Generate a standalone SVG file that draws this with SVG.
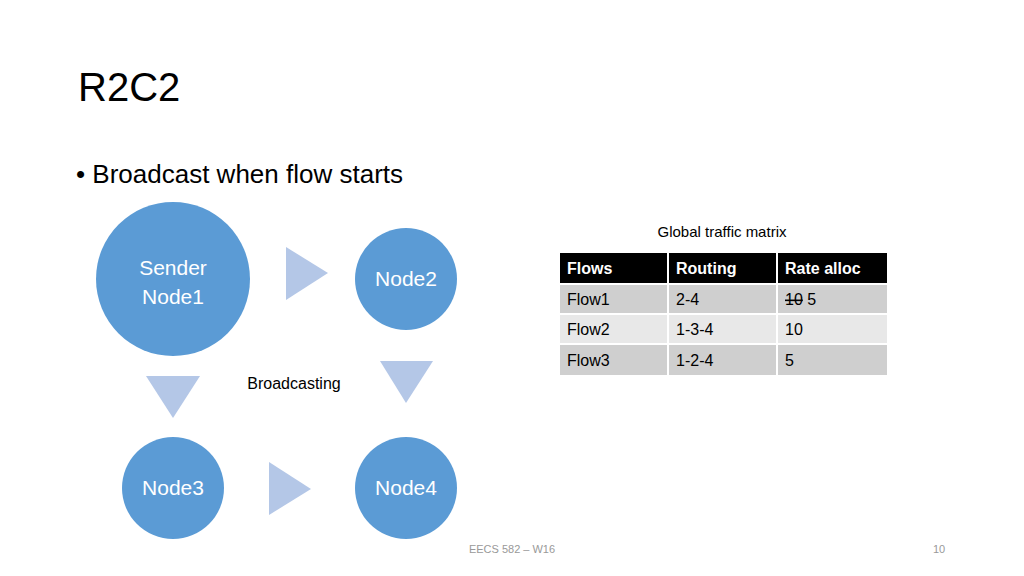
<svg xmlns="http://www.w3.org/2000/svg" width="1024" height="576" viewBox="0 0 1024 576">
<style>
text{font-family:"Liberation Sans","Noto Sans",sans-serif}
.n{fill:#5b9bd5}
.nt{fill:#fff;font-size:21px;text-anchor:middle}
.a{fill:#b4c7e7}
.c{font-size:16px;fill:#000}
.h{font-size:16px;fill:#fff;font-weight:bold}
</style>
<rect width="1024" height="576" fill="#fff"/>
<text x="78" y="101" font-size="40" fill="#000">R2C2</text>
<text x="76" y="183" font-size="26" fill="#000">• Broadcast when flow starts</text>
<g id="node1"><circle class="n" cx="173" cy="279" r="77"/><text class="nt" x="173" y="275" font-size="30">Sender</text><text class="nt" x="173" y="304">Node1</text></g>
<g id="node2"><circle class="n" cx="406" cy="279" r="51"/><text class="nt" x="406" y="286">Node2</text></g>
<g id="node3"><circle class="n" cx="173" cy="488" r="51"/><text class="nt" x="173" y="495">Node3</text></g>
<g id="node4"><circle class="n" cx="406" cy="488" r="51"/><text class="nt" x="406" y="495">Node4</text></g>
<g id="connectors">
<polygon class="a" points="286,247 328,273 286,300"/>
<polygon class="a" points="380,361 433,361 406,403"/>
<polygon class="a" points="146,376 200,376 173,418"/>
<polygon class="a" points="269,462 311,489 269,515"/>
</g>
<text x="294" y="389" font-size="16" text-anchor="middle">Broadcasting</text>
<g id="table">
<text x="722" y="237" font-size="15" text-anchor="middle">Global traffic matrix</text>
<rect x="560" y="253" width="327" height="30" fill="#000"/>
<rect x="560" y="284" width="327" height="30" fill="#cfcfcf"/>
<rect x="560" y="314" width="327" height="30" fill="#e8e8e8"/>
<rect x="560" y="344" width="327" height="31" fill="#cfcfcf"/>
<g stroke="#fff" stroke-width="2"><line x1="668" y1="253" x2="668" y2="375"/><line x1="777" y1="253" x2="777" y2="375"/><line x1="560" y1="284" x2="887" y2="284"/><line x1="560" y1="314" x2="887" y2="314"/><line x1="560" y1="344" x2="887" y2="344"/></g>
<text class="h" x="567" y="274">Flows</text><text class="h" x="676" y="274">Routing</text><text class="h" x="785" y="274">Rate alloc</text>
<text class="c" x="567" y="305">Flow1</text><text class="c" x="676" y="305">2-4</text><text class="c" x="785" y="305"><tspan text-decoration="line-through">10</tspan> 5</text>
<text class="c" x="567" y="335">Flow2</text><text class="c" x="676" y="335">1-3-4</text><text class="c" x="785" y="335">10</text>
<text class="c" x="567" y="366">Flow3</text><text class="c" x="676" y="366">1-2-4</text><text class="c" x="785" y="366">5</text>
</g>
<text x="512" y="553" font-size="11" fill="#999" text-anchor="middle">EECS 582 – W16</text>
<text x="939" y="553" font-size="11" fill="#999" text-anchor="middle">10</text>
</svg>
